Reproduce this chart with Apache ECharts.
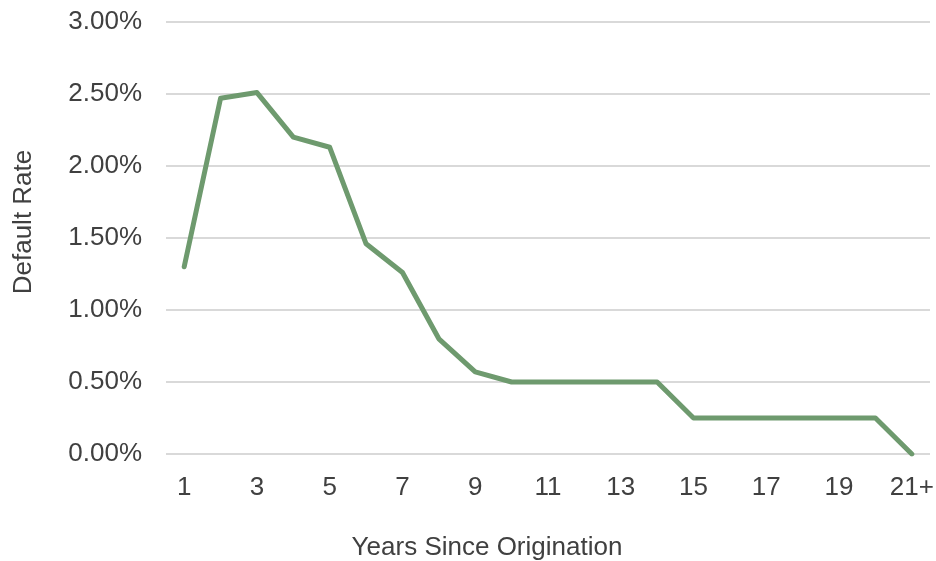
<!DOCTYPE html>
<html>
<head>
<meta charset="utf-8">
<script src="https://cdn.jsdelivr.net/npm/echarts@6/dist/echarts.min.js"></script>
<style>
html,body{margin:0;padding:0;background:#fff;}
#chart{width:936px;height:561px;}
</style>
</head>
<body>
<div id="chart"></div>
<script>
// Years since origination (last bucket is open-ended)
var years = ['1','2','3','4','5','6','7','8','9','10','11','12','13','14','15','16','17','18','19','20','21+'];
// Annual default rate, in percent
var defaultRate = [1.30, 2.47, 2.51, 2.20, 2.13, 1.46, 1.26, 0.80, 0.57, 0.50, 0.50, 0.50, 0.50, 0.50, 0.25, 0.25, 0.25, 0.25, 0.25, 0.25, 0.00];

var textColor = '#404040';
var font = '"Liberation Sans", Arial, sans-serif';
var fs = 26;

var chart = echarts.init(document.getElementById('chart'));
chart.setOption({
  animation: false,
  grid: { left: 166, right: 6, top: 22, bottom: 107, containLabel: false, outerBoundsMode: 'none' },
  xAxis: {
    type: 'category',
    data: years,
    boundaryGap: true,
    name: 'Years Since Origination',
    nameLocation: 'middle',
    nameGap: 81,
    // axis titles sit centred on the whole chart rather than the plot area
    nameTextStyle: { color: textColor, fontSize: fs, fontFamily: font, padding: [0, 122, 0, 0] },
    axisLine: { show: false },
    axisTick: { show: false },
    axisLabel: { interval: 1, color: textColor, fontSize: fs, fontFamily: font, margin: 21 }
  },
  yAxis: {
    type: 'value',
    min: 0,
    max: 3,
    interval: 0.5,
    name: 'Default Rate',
    nameLocation: 'middle',
    nameGap: 129,
    nameTextStyle: { color: textColor, fontSize: fs, fontFamily: font, padding: [0, 0, 0, 32] },
    axisLine: { show: false },
    axisTick: { show: false },
    splitLine: { lineStyle: { color: '#d9d9d9', width: 2 } },
    axisLabel: {
      color: textColor, fontSize: fs, fontFamily: font, margin: 24,
      formatter: function (v) { return v.toFixed(2) + '%'; }
    }
  },
  series: [{
    type: 'line',
    data: defaultRate,
    symbol: 'none',
    lineStyle: { color: '#6e9a6e', width: 5, join: 'round', cap: 'round' }
  }]
});
</script>
</body>
</html>
